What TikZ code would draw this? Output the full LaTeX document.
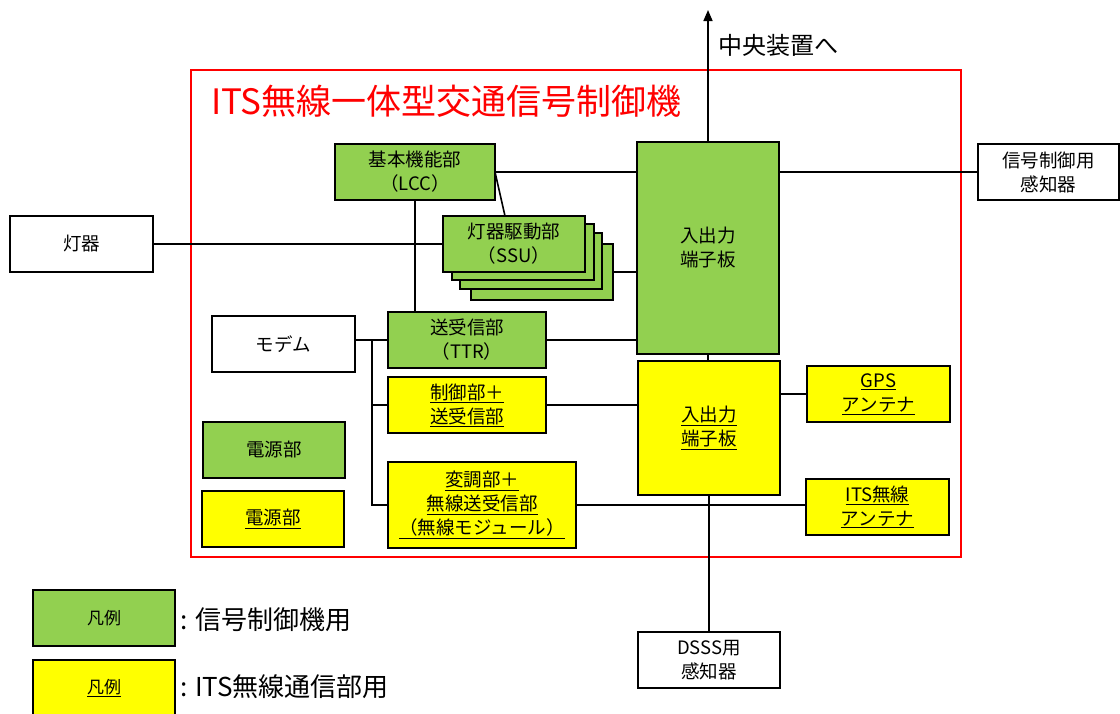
\documentclass[tikz,border=0pt]{standalone}
\usepackage{fontspec}
\setmainfont{Noto Sans CJK JP}
\usetikzlibrary{arrows.meta}
\definecolor{gfill}{HTML}{92D050}
\definecolor{yfill}{HTML}{FFFF00}
\definecolor{rframe}{HTML}{FF0000}
\begin{document}
\begin{tikzpicture}[x=1pt,y=-1pt,
  box/.style={draw=black, line width=1.6pt, inner sep=0pt, outer sep=0pt, align=center,
    font=\fontsize{18.5}{24}\selectfont, text=black},
  gbox/.style={box, fill=gfill},
  ybox/.style={box, fill=yfill},
  wbox/.style={box, fill=white},
  conn/.style={draw=black, line width=1.6pt},
  wh/.style n args={2}{minimum width=#1pt, minimum height=#2pt}
]
\useasboundingbox[fill=white] (0,0) rectangle (1120,713);

% red frame and title
\draw[rframe, line width=2.6pt] (191,70) rectangle (961,557);
\node[anchor=west, inner sep=0pt, text=rframe, font=\fontsize{35}{40}\selectfont] (title) at (211,101) {ITS無線一体型交通信号制御機};

% stacked SSU boxes (back to front)
\node[gbox, wh={142}{56}] (ssu4) at (542,272) {};
\node[gbox, wh={142}{56}] (ssu3) at (531,261) {};
\node[gbox, wh={142}{56}] (ssu2) at (523,252) {};
\node[gbox, wh={142}{56}] (ssu1) at (514,244) {灯器駆動部\\（SSU）};

% green boxes
\node[gbox, wh={160}{56}] (lcc) at (415,172) {基本機能部\\（LCC）};
\node[gbox, wh={158}{56}] (ttr) at (467,340) {送受信部\\（TTR）};
\node[gbox, wh={142}{56}] (pw1) at (274,450) {電源部};
\node[gbox, wh={142}{212}] (iog) at (708,248) {入出力\\端子板};

% yellow boxes
\node[ybox, wh={158}{56}] (ctl) at (467,405) {\underline{制御部＋}\\\underline{送受信部}};
\node[ybox, wh={188}{86}] (mod) at (482,505) {\underline{変調部＋}\\\underline{無線送受信部}\\\underline{（無線モジュール）}};
\node[ybox, wh={142}{56}] (pw2) at (273,519) {\underline{電源部}};
\node[ybox, wh={142}{134}] (ioy) at (709,428) {\underline{入出力}\\\underline{端子板}};
\node[ybox, wh={143}{56}] (gps) at (878.5,394) {\underline{GPS}\\\underline{アンテナ}};
\node[ybox, wh={143}{56}] (itsant) at (877.5,507) {\underline{ITS無線}\\\underline{アンテナ}};

% white boxes
\node[wbox, wh={143}{56}] (lamp) at (81.5,244) {灯器};
\node[wbox, wh={143}{56}] (modem) at (283.5,344) {モデム};
\node[wbox, wh={141}{56}] (sensor) at (1048.5,172) {信号制御用\\感知器};
\node[wbox, wh={142}{56}] (dsss) at (709,660) {DSSS用\\感知器};

% connectors
\coordinate (top) at (708,10);
\draw[conn, -{Triangle[length=11pt, width=9pt]}] (iog.north) -- (top);
\node[anchor=west, inner sep=0pt, font=\fontsize{24}{28}\selectfont] (toplabel) at (718,45) {中央装置へ};

\draw[conn] (lcc.east) -- (lcc.east -| iog.west);
\draw[conn] (sensor.west -| iog.east) -- (sensor.west);
\draw[conn] (lcc.east) -- ([xshift=-9pt]ssu1.north);
\draw[conn] (lamp.east) -- (ssu1.west);
\draw[conn] (lcc.south) -- (lcc.south |- ttr.north);
\draw[conn] (ssu4.east) -- (ssu4.east -| iog.west);
\draw[conn] (ttr.west -| modem.east) -- (ttr.west);
\draw[conn] (ttr.east) -- (ttr.east -| iog.west);
\coordinate (bj) at (372,340);
\draw[conn] (bj) |- (ctl.west);
\draw[conn] (bj) |- (mod.west);
\draw[conn] (ctl.east) -- (ctl.east -| ioy.west);
\draw[conn] (mod.east) -- (mod.east -| itsant.west);
\draw[conn] (gps.west -| ioy.east) -- (gps.west);
\draw[conn] (iog.south) -- (iog.south |- ioy.north);
\draw[conn] (ioy.south) -- (dsss.north);

% legend
\node[gbox, wh={142}{56}, font=\fontsize{17}{20}\selectfont] (leg1) at (104,618) {凡例};
\node[ybox, wh={142}{56}, font=\fontsize{17}{20}\selectfont] (leg2) at (104,688) {\underline{凡例}};
\node[anchor=west, inner sep=0pt, font=\fontsize{26}{28}\selectfont] (leg1t) at (180,620) {: 信号制御機用};
\node[anchor=west, inner sep=0pt, font=\fontsize{26}{28}\selectfont] (leg2t) at (180,687) {: ITS無線通信部用};
\end{tikzpicture}
\end{document}
